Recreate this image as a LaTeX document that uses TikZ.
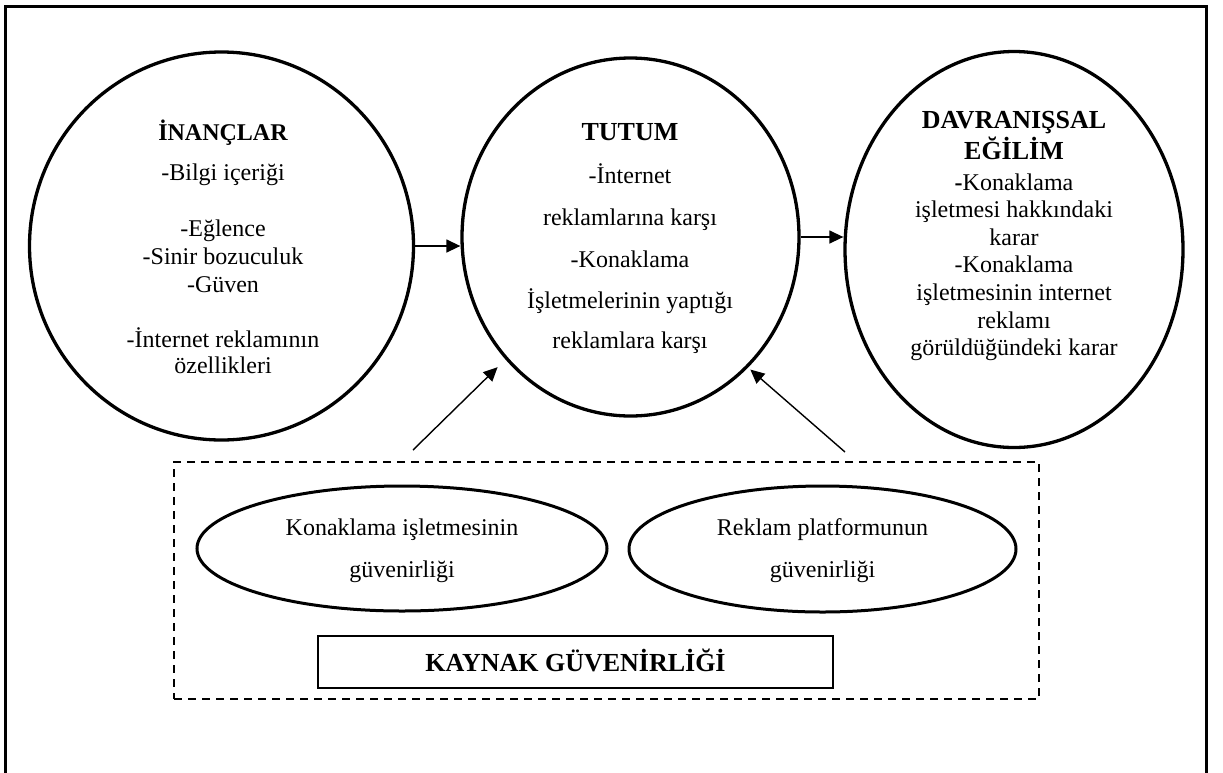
\documentclass[tikz,border=0pt]{standalone}
\usepackage{fontspec}
\setmainfont{Liberation Serif}
\usetikzlibrary{shapes.geometric,arrows.meta}

\tikzset{
  bigell/.style={ellipse, draw, line width=3.3pt, inner sep=0pt},
  smallell/.style={ellipse, draw, line width=3pt, inner sep=0pt},
  txt/.style={inner sep=0pt, anchor=base, font=\fontsize{24}{28}\selectfont},
  ttl/.style={inner sep=0pt, anchor=base, font=\fontsize{26}{30}\selectfont\bfseries},
  arr/.style={line width=1.4pt, -{Triangle[length=14pt,width=13pt]}},
  dashbox/.style={draw, dash pattern=on 8pt off 6pt, line width=1.5pt, inner sep=0pt},
  namebox/.style={draw, line width=1.8pt, inner sep=0pt,
    font=\fontsize{26}{30}\selectfont\bfseries, text height=18pt, text depth=0pt},
}

\begin{document}
\begin{tikzpicture}[x=1pt, y=-1pt]
  \useasboundingbox (0,0) rectangle (1223,772);

  % outer frame, open below the page edge
  \draw[line width=3pt] (5.5,780) -- (5.5,6.5) -- (1206,6.5) -- (1206,780);

  % the three main components
  \node[bigell, minimum width=384pt, minimum height=388pt] (inanc) at (221.5,246) {};
  \node[bigell, minimum width=337pt, minimum height=358pt] (tutum) at (630.5,237) {};
  \node[bigell, minimum width=338pt, minimum height=396pt] (egilim) at (1014,249.5) {};

  % beliefs
  \node[txt, name=inanc-t, font=\fontsize{24}{28}\selectfont\bfseries] at (223,140) {İNANÇLAR};
  \foreach \t/\yy [count=\k] in {{-Bilgi içeriği}/180, {-Eğlence}/236, {-Sinir bozuculuk}/264,
      {-Güven}/292, {-İnternet reklamının}/347, {özellikleri}/373}
    \node[txt, name=inanc-\k] at (223,\yy) {\t};

  % attitude
  \node[ttl, name=tutum-t] at (630,140) {TUTUM};
  \foreach \t/\yy [count=\k] in {{-İnternet}/183, {reklamlarına karşı}/225, {-Konaklama}/267,
      {İşletmelerinin yaptığı}/308, {reklamlara karşı}/348}
    \node[txt, name=tutum-\k] at (630,\yy) {\t};

  % behavioural intention
  \node[ttl, name=egilim-t1] at (1014,128) {DAVRANIŞSAL};
  \node[ttl, name=egilim-t2] at (1014,159) {EĞİLİM};
  \foreach \t/\yy [count=\k] in {{\textbf{-}Konaklama}/190, {işletmesi hakkındaki}/217, {karar}/245,
      {-Konaklama}/272, {işletmesinin internet}/300, {reklamı}/328, {görüldüğündeki karar}/355}
    \node[txt, name=egilim-\k] at (1014,\yy) {\t};

  % source credibility group
  \node[dashbox, minimum width=865pt, minimum height=237pt] (kaynak) at (606.5,580.5) {};
  \node[smallell, minimum width=410pt, minimum height=125pt] (isl) at (402,548.5) {};
  \node[smallell, minimum width=387pt, minimum height=126pt] (plat) at (822.5,549) {};
  \node[txt, name=isl-1] at (402,535.5) {Konaklama işletmesinin};
  \node[txt, name=isl-2] at (402,577) {güvenirliği};
  \node[txt, name=plat-1] at (822.5,535.5) {Reklam platformunun};
  \node[txt, name=plat-2] at (822.5,577) {güvenirliği};
  \node[namebox, minimum width=515pt, minimum height=52pt] (kg) at (575.5,662) {KAYNAK GÜVENİRLİĞİ};

  % connectors
  \draw[arr] (inanc.east) -- (inanc.east -| tutum.west);
  \draw[arr] (tutum.east) -- (tutum.east -| egilim.west);
  \coordinate (srcL) at (413,450);
  \coordinate (srcR) at (845,452);
  \draw[arr, shorten >=11pt] (srcL) -- (tutum);
  \draw[arr, shorten >=3pt] (srcR) -- (tutum.312);
\end{tikzpicture}
\end{document}
